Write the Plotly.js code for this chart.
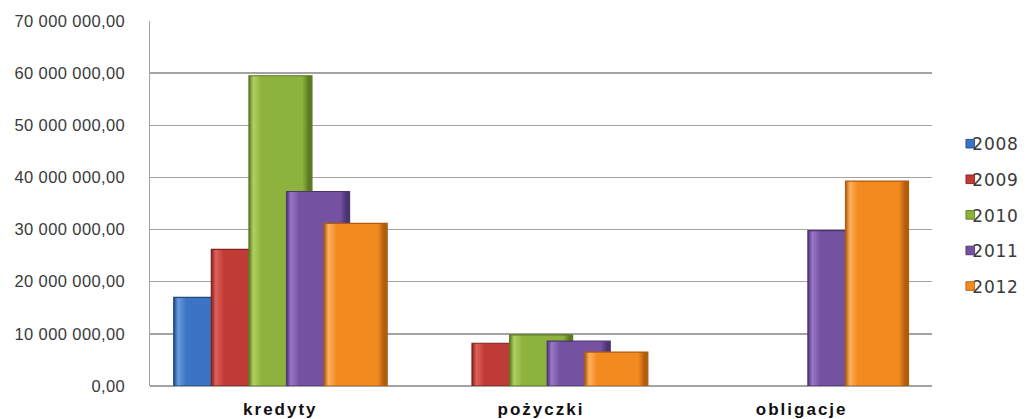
<!DOCTYPE html>
<html>
<head>
<meta charset="utf-8">
<script src="https://cdn.plot.ly/plotly-3.0.1.min.js"></script>
<style>
  html, body { margin: 0; padding: 0; background: #fff; }
  #chart { width: 1029px; height: 419px; }
  .xtick text { letter-spacing: 2px; }
  .ytick text { letter-spacing: 0.4px; }
  .legend .scrollbox { clip-path: none !important; }
  .legend .legendpoints path { transform: translate(50px, 0px) scale(0.72); }
  .legend text.legendtext { transform: translate(12px, 0px); letter-spacing: 0.8px; }
</style>
</head>
<body>
<div id="chart"></div>
<script>
const categories = ["kredyty", "pożyczki", "obligacje"];
const years = ["2008", "2009", "2010", "2011", "2012"];
const v2008 = [17000000, null, null];
const v2009 = [26200000, 8200000, null];
const v2010 = [59500000, 9800000, null];
const v2011 = [37300000, 8600000, 29800000];
const v2012 = [31200000, 6500000, 39300000];
const yTickVals = [0, 10000000, 20000000, 30000000, 40000000, 50000000, 60000000, 70000000];
const yTickText = ["0,00", "10 000 000,00", "20 000 000,00", "30 000 000,00", "40 000 000,00", "50 000 000,00", "60 000 000,00", "70 000 000,00"];

const series = [v2008, v2009, v2010, v2011, v2012];
const fills = ["#3a74c2", "#c03a36", "#8db23d", "#7551a2", "#f28a20"];
const lights = ["#6a9be0", "#e0605a", "#b0d060", "#9a78c8", "#ffb060"];
const edges = ["#1f4a80", "#7e2220", "#5a7a22", "#4c3474", "#b05c0c"];

const barW = 0.2417;
const step = 0.1443;
const start = -0.409;

const traces = series.map((vals, i) => ({
  type: "bar",
  name: years[i],
  x: categories,
  y: vals,
  width: barW,
  offset: start + i * step,
  marker: { color: fills[i], line: { color: edges[i], width: 1.2 } },
  legendgroup: "g" + i,
  hoverinfo: "skip"
}));

const layout = {
  width: 1029,
  height: 419,
  margin: { l: 150, r: 97, t: 21, b: 33 },
  paper_bgcolor: "#ffffff",
  plot_bgcolor: "#ffffff",
  barmode: "overlay",
  showlegend: true,
  legend: {
    x: 0.985, xanchor: "left",
    y: 0.712, yanchor: "top",
    traceorder: "grouped",
    tracegroupgap: 10.5,
    bgcolor: "rgba(0,0,0,0)",
    font: { family: "DejaVu Sans", size: 17, color: "#3a3a3a" },
    itemclick: false
  },
  xaxis: {
    type: "category",
    range: [-0.5, 2.5],
    showgrid: false,
    showline: false,
    zeroline: false,
    ticks: "",
    ticklabelstandoff: 11,
    tickfont: { family: "Liberation Sans", size: 17, color: "#111111", weight: "bold" },
    fixedrange: true
  },
  yaxis: {
    range: [0, 70000000],
    tickmode: "array",
    tickvals: yTickVals,
    ticktext: yTickText,
    showgrid: true,
    gridcolor: "#a3a3a3",
    gridwidth: 1.5,
    zeroline: true,
    zerolinecolor: "#a3a3a3",
    zerolinewidth: 1.5,
    showline: true,
    linecolor: "#a3a3a3",
    linewidth: 1.5,
    ticks: "",
    ticklabelstandoff: 20,
    tickfont: { family: "Liberation Sans", size: 16.5, color: "#3a3a3a" },
    fixedrange: true
  }
};

function addGradients(gd) {
  const svg = gd.querySelector("svg.main-svg");
  if (!svg) return;
  const ns = "http://www.w3.org/2000/svg";
  let defs = svg.querySelector("defs");
  if (!defs) { defs = document.createElementNS(ns, "defs"); svg.insertBefore(defs, svg.firstChild); }
  fills.forEach((c, i) => {
    const g = document.createElementNS(ns, "linearGradient");
    g.setAttribute("id", "bevel" + i);
    g.setAttribute("x1", "0"); g.setAttribute("y1", "0");
    g.setAttribute("x2", "1"); g.setAttribute("y2", "0");
    [[0, edges[i]], [0.07, lights[i]], [0.2, fills[i]], [0.85, fills[i]], [0.95, edges[i]], [1, edges[i]]].forEach(([o, col]) => {
      const s = document.createElementNS(ns, "stop");
      s.setAttribute("offset", o);
      s.setAttribute("stop-color", col);
      g.appendChild(s);
    });
    defs.appendChild(g);
  });
  const traceGroups = gd.querySelectorAll(".barlayer .trace");
  traceGroups.forEach((tg, i) => {
    tg.querySelectorAll("path").forEach(p => { p.style.fill = "url(#bevel" + i + ")"; });
  });
}

Plotly.newPlot("chart", traces, layout, { displayModeBar: false, staticPlot: true }).then(addGradients);
</script>
</body>
</html>
